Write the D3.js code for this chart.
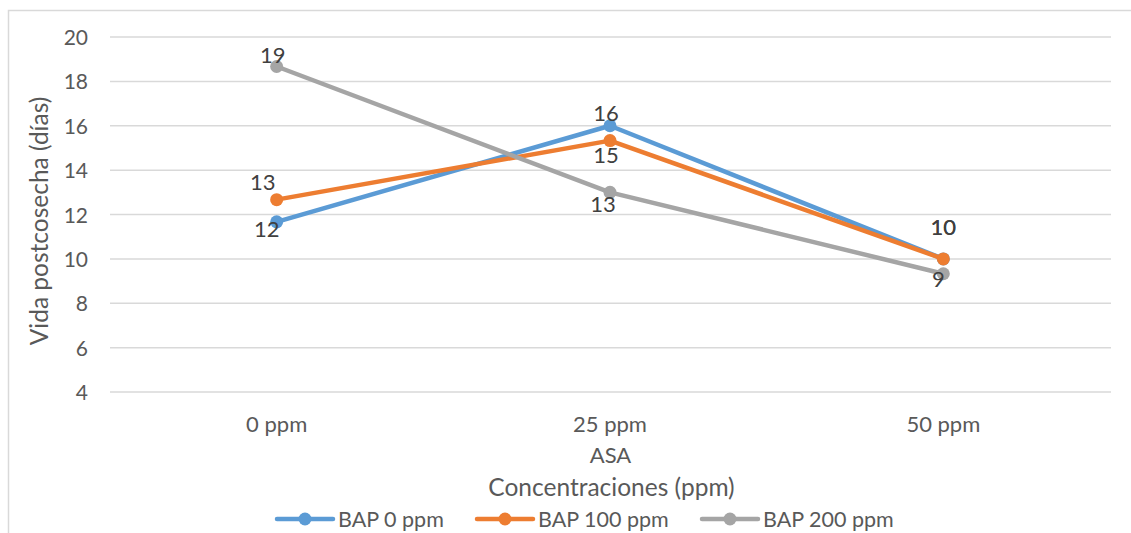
<!DOCTYPE html>
<html>
<head>
<meta charset="utf-8">
<script src="https://cdn.jsdelivr.net/npm/d3@7/dist/d3.min.js"></script>
<style>
  html, body { margin: 0; padding: 0; background: #fff; }
  svg { display: block; font-family: Lato, "Open Sans", sans-serif; }
</style>
</head>
<body>
<svg id="chart" width="1131" height="533"></svg>
<script>
const categories = ["0 ppm", "25 ppm", "50 ppm"];
const seriesNames = ["BAP 0 ppm", "BAP 100 ppm", "BAP 200 ppm"];
const bap0 = [11.67, 16, 10];
const bap100 = [12.67, 15.33, 10];
const bap200 = [18.67, 13, 9.33];
const yTicks = [4, 6, 8, 10, 12, 14, 16, 18, 20];
const colors = ["#5b9bd5", "#ed7d31", "#a5a5a5"];
const xSubTitle = "ASA";
const xTitle = "Concentraciones (ppm)";
const yTitle = "Vida postcosecha (días)";

// data label placement offsets (pixels from marker: [dx, dy of baseline])
const labelOffsets = [
  [[-10, 15], [-4, -5], [0, -24]],
  [[-14, -10], [-4, 22], [0, -24]],
  [[-4, -4], [-7, 20], [-5, 13]]
];

const series = [bap0, bap100, bap200];
const svg = d3.select("#chart");

// chart area border
svg.append("rect").attr("x", 8.5).attr("y", 10.5).attr("width", 1140).attr("height", 540)
  .attr("fill", "none").attr("stroke", "#d9d9d9").attr("stroke-width", 1.5);

const x = d3.scaleBand().domain(categories).range([110, 1110]);
const y = d3.scaleLinear().domain([4, 20]).range([392, 37]);
const cx = c => x(c) + x.bandwidth() / 2;

// gridlines
svg.append("g").selectAll("line").data(yTicks).join("line")
  .attr("x1", 110).attr("x2", 1111)
  .attr("y1", d => y(d)).attr("y2", d => y(d))
  .attr("stroke", "#d9d9d9").attr("stroke-width", 1.5);

// y axis labels
const yAxis = d3.axisLeft(y).tickValues(yTicks).tickSize(0).tickPadding(0);
const gy = svg.append("g").attr("transform", "translate(88,0)").call(yAxis);
gy.select(".domain").remove();
gy.selectAll("text").attr("font-family", "Lato").attr("font-size", 21).attr("fill", "#595959").attr("dy", "0.36em");

// x axis labels
const xAxis = d3.axisBottom(x).tickSize(0).tickPadding(0);
const gx = svg.append("g").call(xAxis);
gx.select(".domain").remove();
gx.selectAll("text").attr("font-family", "Lato").attr("font-size", 22).attr("fill", "#595959")
  .attr("y", 432).attr("dy", 0);

svg.append("text").attr("x", 610.5).attr("y", 463).attr("text-anchor", "middle")
  .attr("font-size", 22).attr("fill", "#595959").text(xSubTitle);
svg.append("text").attr("x", 611.5).attr("y", 496).attr("text-anchor", "middle")
  .attr("font-size", 24.5).attr("fill", "#595959").text(xTitle);
svg.append("text").attr("transform", "translate(48,221) rotate(-90)").attr("text-anchor", "middle")
  .attr("font-size", 24.5).attr("fill", "#595959").text(yTitle);

// lines and markers
const line = d3.line().x((d, i) => cx(categories[i])).y(d => y(d));
series.forEach((s, si) => {
  const g = svg.append("g");
  g.append("path").datum(s).attr("d", line).attr("fill", "none")
    .attr("stroke", colors[si]).attr("stroke-width", 4.5).attr("stroke-linejoin", "round").attr("stroke-linecap", "round");
  g.selectAll("circle").data(s).join("circle")
    .attr("cx", (d, i) => cx(categories[i])).attr("cy", d => y(d)).attr("r", 6.5)
    .attr("fill", colors[si]);
});

// data labels
series.forEach((s, si) => {
  svg.append("g").selectAll("text").data(s).join("text")
    .attr("x", (d, i) => cx(categories[i]) + labelOffsets[si][i][0])
    .attr("y", (d, i) => y(d) + labelOffsets[si][i][1])
    .attr("text-anchor", "middle").attr("font-size", 22).attr("fill", "#404040")
    .text(d => Math.round(d));
});

// legend
const legendX = [277, 477, 702];
const lg = svg.append("g");
seriesNames.forEach((n, i) => {
  const g = lg.append("g").attr("transform", `translate(${legendX[i]},519)`);
  g.append("line").attr("x1", 0).attr("x2", 56).attr("y1", 0).attr("y2", 0)
    .attr("stroke", colors[i]).attr("stroke-width", 4.5).attr("stroke-linecap", "round");
  g.append("circle").attr("cx", 28).attr("cy", 0).attr("r", 6.5).attr("fill", colors[i]);
  g.append("text").attr("x", 61).attr("y", 7.5).attr("font-size", 21.5).attr("fill", "#595959").text(n);
});
</script>
</body>
</html>
